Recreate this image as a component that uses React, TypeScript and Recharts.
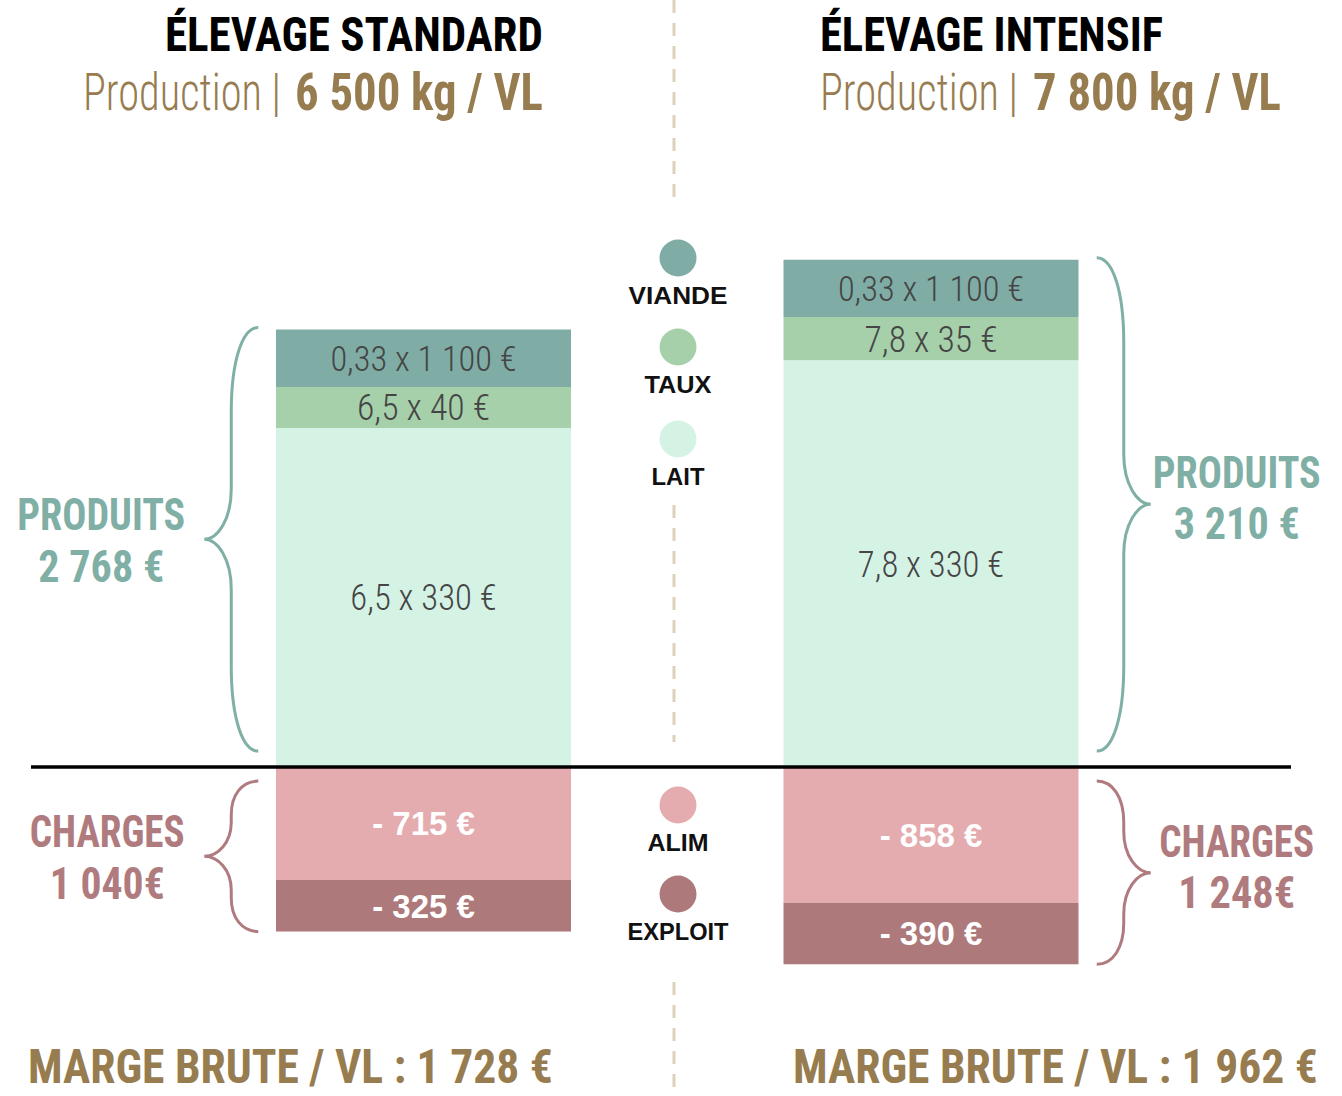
import React from 'react';
import { BarChart, Bar, XAxis, YAxis, ReferenceLine, ReferenceArea, LabelList, Legend } from 'recharts';

// ---------- data ----------
const categories = ['Standard', 'Intensif'];
const lait = [2145, 2574];
const taux = [260, 273];
const viande = [363, 363];
const alim = [-715, -858];
const exploit = [-325, -390];

const laitLabels = ['6,5 x 330 €', '7,8 x 330 €'];
const tauxLabels = ['6,5 x 40 €', '7,8 x 35 €'];
const viandeLabels = ['0,33 x 1 100 €', '0,33 x 1 100 €'];
const alimLabels = ['- 715 €', '- 858 €'];
const exploitLabels = ['- 325 €', '- 390 €'];

const produitsTotals = [2768, 3210];
const chargesTotals = [1040, 1248];
const produitsLabels = ['2 768 €', '3 210 €'];
const chargesLabels = ['1 040€', '1 248€'];

const titles = ['ÉLEVAGE STANDARD', 'ÉLEVAGE INTENSIF'];
const productions = ['6 500 kg / VL', '7 800 kg / VL'];
const marges = ['MARGE BRUTE / VL : 1 728 €', 'MARGE BRUTE / VL : 1 962 €'];

const seriesNames = { lait: 'LAIT', taux: 'TAUX', viande: 'VIANDE', alim: 'ALIM', exploit: 'EXPLOIT' };

// ---------- styles ----------
const WIDTH = 1342;
const HEIGHT = 1096;
const BAR = 295;
const C = {
  viande: '#7fada5',
  taux: '#a6d0aa',
  lait: '#d5f3e5',
  alim: '#e4acae',
  exploit: '#ad797a',
  produits: '#80afa6',
  charges: '#b07b7e',
  gold: '#977c50',
  grayText: '#454545',
  divider: '#ddd1bc',
};
const COND = "'Roboto Condensed', 'DejaVu Sans Condensed', 'Liberation Sans Narrow', 'DejaVu Sans', sans-serif";
const SANS = "'Liberation Sans', Arial, sans-serif";

const TW: Record<string, number> = {
  PRODUITS: 168,
  CHARGES: 155,
  '2 768 €': 126,
  '3 210 €': 126,
  '1 040€': 115,
  '1 248€': 117,
  'ÉLEVAGE STANDARD': 378,
  'ÉLEVAGE INTENSIF': 343,
  'Production |': 198,
  '6 500 kg / VL': 248,
  '7 800 kg / VL': 248,
  'MARGE BRUTE / VL : 1 728 €': 525,
  'MARGE BRUTE / VL : 1 962 €': 525,
  VIANDE: 99,
  TAUX: 67,
  LAIT: 53,
  ALIM: 61,
  EXPLOIT: 101,
};

let measureCtx: CanvasRenderingContext2D | null = null;
function measureText(text: string, font: string): number {
  try {
    if (!measureCtx) measureCtx = document.createElement('canvas').getContext('2d');
    if (!measureCtx) return 0;
    measureCtx.font = font;
    return measureCtx.measureText(text).width;
  } catch (e) {
    return 0;
  }
}

// text fitted to a target width by horizontal scaling
function CText(props: any) {
  const { x, y, w, size, weight, fill, anchor = 'start', family = COND, children } = props;
  const text = String(children);
  const width = w ?? TW[text] ?? text.length * size * 0.37;
  let sx = x;
  if (anchor === 'middle') sx = x - width / 2;
  else if (anchor === 'end') sx = x - width;
  const natural = measureText(text, `${weight} ${size}px ${family}`);
  if (natural > 0) {
    const k = width / natural;
    return (
      <text
        transform={`translate(${sx},${y}) scale(${k},1)`}
        x={0}
        y={0}
        fontFamily={family}
        fontSize={size}
        fontWeight={weight}
        fill={fill}
      >
        {text}
      </text>
    );
  }
  return (
    <text
      x={sx}
      y={y}
      fontFamily={family}
      fontSize={size}
      fontWeight={weight}
      fill={fill}
      textLength={width}
      lengthAdjust="spacingAndGlyphs"
    >
      {text}
    </text>
  );
}

function boxOf(props: any) {
  const vb = props.viewBox && props.viewBox.width != null ? props.viewBox : props;
  return { x: Number(vb.x), y: Number(vb.y), width: Number(vb.width), height: Number(vb.height) };
}

const lightLabel = (props: any) => {
  const { x, y, width, height } = boxOf(props);
  const text = String(props.value);
  const size = 36;
  const cx = x + width / 2;
  const cy = y + height / 2;
  return (
    <CText x={cx} y={cy + size * 0.36} w={text.length * 13.3} size={size} weight={300} fill={C.grayText} anchor="middle">
      {text}
    </CText>
  );
};

const whiteLabel = (props: any) => {
  const { x, y, width, height } = boxOf(props);
  const size = 33;
  return (
    <text
      x={x + width / 2}
      y={y + height / 2 + size * 0.36}
      textAnchor="middle"
      fontFamily={SANS}
      fontWeight={700}
      fontSize={size}
      fill="#ffffff"
    >
      {props.value}
    </text>
  );
};

function Brace(props: any) {
  const { x, y, width, height, side, kind, color, lines } = props;
  if (x == null || y == null) return null;
  const center = x + width / 2;
  const barL = center - BAR / 2;
  const barR = center + BAR / 2;
  let y0: number;
  let y1: number;
  if (kind === 'produits') {
    y0 = y - 2;
    y1 = y + height - 16;
  } else {
    y0 = y + 14;
    y1 = y + height;
  }
  const dir = side === 'left' ? -1 : 1;
  const base = side === 'left' ? barL : barR;
  const ax = base + dir * 18;
  const sx = base + dir * 45;
  const tx = base + dir * 72;
  const ym = (y0 + y1) / 2;
  const half = (y1 - y0) / 2;
  const ro = Math.min(85, half * 0.45);
  const ri = Math.min(50, half * 0.45);
  const d =
    `M${ax},${y0} C${ax + (sx - ax) * 0.6},${y0} ${sx},${y0 + ro * 0.4} ${sx},${y0 + ro} ` +
    `L${sx},${ym - ri} C${sx},${ym - ri * 0.4} ${sx + (tx - sx) * 0.5},${ym} ${tx},${ym} ` +
    `C${sx + (tx - sx) * 0.5},${ym} ${sx},${ym + ri * 0.4} ${sx},${ym + ri} ` +
    `L${sx},${y1 - ro} C${sx},${y1 - ro * 0.4} ${ax + (sx - ax) * 0.6},${y1} ${ax},${y1}`;
  const lx = tx + (side === 'left' ? (kind === 'produits' ? -103 : -97) : 86);
  const dy1 = side === 'left' ? -9 : -16;
  const dy2 = side === 'left' ? 43 : 35;
  return (
    <g>
      <path d={d} fill="none" stroke={color} strokeWidth={3} />
      <CText x={lx} y={ym + dy1} size={45} weight={700} fill={color} anchor="middle">
        {lines[0]}
      </CText>
      <CText x={lx} y={ym + dy2} size={45} weight={700} fill={color} anchor="middle">
        {lines[1]}
      </CText>
    </g>
  );
}

const legendLayout = [
  { key: 'viande', cy: 258 },
  { key: 'taux', cy: 347 },
  { key: 'lait', cy: 439 },
  { key: 'alim', cy: 805 },
  { key: 'exploit', cy: 894 },
];

const renderLegend = (props: any) => {
  const payload: any[] = props.payload || [];
  const cx = 678;
  return (
    <svg width={WIDTH} height={HEIGHT} style={{ position: 'absolute', left: 0, top: 0, overflow: 'visible' }}>
      {legendLayout.map((l) => {
        const entry = payload.find((p) => p.dataKey === l.key);
        if (!entry) return null;
        return (
          <g key={l.key}>
            <circle cx={cx} cy={l.cy} r={18.5} fill={entry.color} />
            <CText x={cx} y={l.cy + 46} anchor="middle" family={SANS} weight={700} size={24} fill="#111">
              {entry.value}
            </CText>
          </g>
        );
      })}
    </svg>
  );
};

export default function App() {
  const data = categories.map((name, i) => ({
    name,
    lait: lait[i],
    taux: taux[i],
    viande: viande[i],
    alim: alim[i],
    exploit: exploit[i],
    laitLabel: laitLabels[i],
    tauxLabel: tauxLabels[i],
    viandeLabel: viandeLabels[i],
    alimLabel: alimLabels[i],
    exploitLabel: exploitLabels[i],
  }));

  return (
    <div style={{ position: 'absolute', left: 0, top: 0, width: WIDTH, height: HEIGHT, background: '#fff' }}>
      <BarChart
        width={WIDTH}
        height={HEIGHT}
        data={data}
        stackOffset="sign"
        barSize={BAR}
        margin={{ top: 198, right: 51, bottom: 76, left: 31 }}
      >
        <XAxis dataKey="name" hide padding={{ left: 139, right: 106 }} />
        <YAxis hide type="number" domain={[-1600, 3600]} allowDataOverflow />
        <Bar dataKey="lait" name={seriesNames.lait} stackId="s" fill={C.lait} isAnimationActive={false}>
          <LabelList dataKey="laitLabel" content={lightLabel} />
        </Bar>
        <Bar dataKey="taux" name={seriesNames.taux} stackId="s" fill={C.taux} isAnimationActive={false}>
          <LabelList dataKey="tauxLabel" content={lightLabel} />
        </Bar>
        <Bar dataKey="viande" name={seriesNames.viande} stackId="s" fill={C.viande} isAnimationActive={false}>
          <LabelList dataKey="viandeLabel" content={lightLabel} />
        </Bar>
        <Bar dataKey="alim" name={seriesNames.alim} stackId="s" fill={C.alim} isAnimationActive={false}>
          <LabelList dataKey="alimLabel" content={whiteLabel} />
        </Bar>
        <Bar dataKey="exploit" name={seriesNames.exploit} stackId="s" fill={C.exploit} isAnimationActive={false}>
          <LabelList dataKey="exploitLabel" content={whiteLabel} />
        </Bar>
        <ReferenceLine y={0} stroke="#000" strokeWidth={3.5} />
        {categories.map((c, i) => (
          <ReferenceArea
            key={`p-${c}`}
            x1={c}
            x2={c}
            y1={0}
            y2={produitsTotals[i]}
            ifOverflow="visible"
            shape={(p: any) => (
              <Brace {...p} side={i === 0 ? 'left' : 'right'} kind="produits" color={C.produits} lines={['PRODUITS', produitsLabels[i]]} />
            )}
          />
        ))}
        {categories.map((c, i) => (
          <ReferenceArea
            key={`c-${c}`}
            x1={c}
            x2={c}
            y1={0}
            y2={-chargesTotals[i]}
            ifOverflow="visible"
            shape={(p: any) => (
              <Brace {...p} side={i === 0 ? 'left' : 'right'} kind="charges" color={C.charges} lines={['CHARGES', chargesLabels[i]]} />
            )}
          />
        ))}
        <Legend
          content={renderLegend}
          layout="vertical"
          align="center"
          verticalAlign="middle"
          wrapperStyle={{ left: 0, top: 0, width: WIDTH, height: HEIGHT, pointerEvents: 'none' }}
        />
      </BarChart>

      <svg width={WIDTH} height={HEIGHT} style={{ position: 'absolute', left: 0, top: 0, pointerEvents: 'none' }}>
        {/* divider */}
        <g stroke={C.divider} strokeWidth={3} strokeDasharray="13 10">
          <line x1={674} y1={0} x2={674} y2={205} />
          <line x1={674} y1={505} x2={674} y2={742} />
          <line x1={674} y1={982} x2={674} y2={1096} />
        </g>
        {/* titles */}
        <CText x={543} y={51} size={48} weight={700} fill="#000" anchor="end">{titles[0]}</CText>
        <CText x={820} y={51} size={48} weight={700} fill="#000">{titles[1]}</CText>
        <CText x={83} y={110} size={51} weight={300} fill={C.gold}>Production |</CText>
        <CText x={295} y={110} size={51} weight={700} fill={C.gold}>{productions[0]}</CText>
        <CText x={820} y={110} size={51} weight={300} fill={C.gold}>Production |</CText>
        <CText x={1033} y={110} size={51} weight={700} fill={C.gold}>{productions[1]}</CText>
        {/* marges */}
        <CText x={28} y={1083} size={49} weight={700} fill={C.gold}>{marges[0]}</CText>
        <CText x={793} y={1083} size={49} weight={700} fill={C.gold}>{marges[1]}</CText>
      </svg>
    </div>
  );
}
